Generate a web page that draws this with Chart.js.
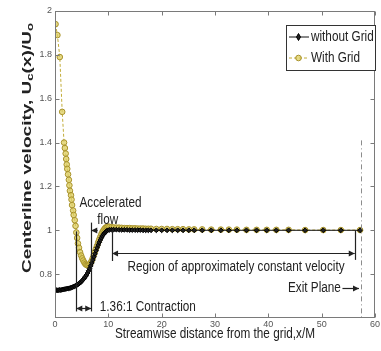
<!DOCTYPE html>
<html>
<head>
<meta charset="utf-8">
<script src="https://cdn.jsdelivr.net/npm/chart.js@4.4.1/dist/chart.umd.min.js"></script>
<style>
html,body{margin:0;padding:0;background:#fff;}
#wrap{width:381px;height:351px;position:relative;}
</style>
</head>
<body>
<div id="wrap"><canvas id="c" width="381" height="351"></canvas></div>
<script>
// ---- data ----
const xFlat = [11.0,11.5,12.0,12.5,13.0,13.5,14.0,14.5,15.0,15.5,16.0,16.5,17.0,17.5,18.0,19.0,20.0,21.0,22.0,23.0,24.0,25.1,26.1,27.6,29.3,31.1,32.6,34.1,35.9,37.8,39.7,41.5,43.8,46.9,50.3,53.6,57.2];

const xWithGrid = [0.1,0.45,0.9,1.35,1.7,1.85,2.0,2.1,2.2,2.3,2.45,2.6,2.7,2.8,3.0,3.1,3.2,3.4,3.5,3.7,3.85,4.0,4.15,4.3,4.5,4.7,4.9,5.1,5.3,5.5,5.7,5.9,6.1,6.3,6.5,6.7,6.9,7.1,7.3,7.5,7.7,7.9,8.1,8.3,8.5,8.7,8.9,9.1,9.3,9.5,9.7,9.9,10.2,10.6].concat(xFlat);
const yWithGrid = [1.94,1.89,1.79,1.54,1.40,1.375,1.35,1.325,1.30,1.28,1.255,1.23,1.205,1.18,1.16,1.14,1.115,1.09,1.07,1.046,1.02,0.99,0.965,0.94,0.92,0.90,0.885,0.872,0.862,0.853,0.846,0.842,0.84,0.841,0.845,0.852,0.862,0.875,0.889,0.903,0.917,0.93,0.945,0.958,0.97,0.982,0.992,1.0,1.007,1.012,1.015,1.017,1.016,1.014,
1.013,1.012,1.012,1.011,1.01,1.01,1.01,1.009,1.009,1.008,1.008,1.008,1.007,1.007,1.007,1.006,1.006,1.006,1.005,1.005,1.005,1.004,1.004,1.004,1.003,1.003,1.003,1.003,1.002,1.002,1.002,1.002,1.002,1.001,1.001,1.001,1.001];

const xWithoutGrid = [0.1,0.3,0.5,0.7,0.9,1.1,1.3,1.5,1.7,1.9,2.1,2.3,2.5,2.7,2.9,3.1,3.3,3.5,3.7,3.9,4.1,4.3,4.5,4.7,4.9,5.1,5.3,5.5,5.7,5.9,6.1,6.3,6.5,6.7,6.9,7.1,7.3,7.5,7.7,7.9,8.1,8.3,8.5,8.7,8.9,9.1,9.3,9.5,9.7,9.9,10.2,10.6].concat(xFlat);
const yWithoutGrid = [0.728,0.727,0.726,0.727,0.728,0.727,0.729,0.73,0.731,0.732,0.733,0.734,0.735,0.736,0.737,0.739,0.741,0.743,0.745,0.747,0.75,0.753,0.757,0.761,0.765,0.77,0.776,0.782,0.789,0.796,0.805,0.815,0.826,0.838,0.851,0.865,0.879,0.893,0.907,0.92,0.933,0.945,0.956,0.966,0.975,0.982,0.988,0.993,0.997,1.0,1.002,1.003,
1.003,1.003,1.002,1.002,1.002,1.002,1.001,1.001,1.001,1.001,1.001,1.0,1.0,1.0,1.0,1.0,1.0,1.0,1.0,1.0,1.0,1.0,1.0,1.0,1.0,1.0,1.0,1.0,1.0,1.0,1.0,1.0,1.0,1.0,1.0,1.0,1.0];

const seriesNames = ['without Grid','With Grid'];
const xTickValues = [0,10,20,30,40,50,60];
const yTickValues = [0.8,1,1.2,1.4,1.6,1.8,2];
const yTickLabels = ['0.8','1','1.2','1.4','1.6','1.8','2'];

// annotation content (in data units)
const annoTexts = [
  {text:'Accelerated', x:10.4, y:1.124, align:'center'},
  {text:'flow', x:9.9, y:1.047, align:'center'},
  {text:'Region of approximately constant velocity', x:13.6, y:0.832, align:'left'},
  {text:'1.36:1 Contraction', x:8.4, y:0.65, align:'left'},
  {text:'Exit Plane', x:53.6, y:0.736, align:'right'}
];
const annoVLines = [
  {x:4.0, y1:0.63, y2:0.995},
  {x:6.8, y1:0.63, y2:1.035},
  {x:10.7, y1:0.86, y2:1.0},
  {x:56.2, y1:0.865, y2:1.0}
];
const annoArrows = [
  {x1:8.0, y1:1.0, x2:6.8, y2:1.0, heads:[false,true]},
  {x1:10.7, y1:0.895, x2:56.2, y2:0.895, heads:[true,true]},
  {x1:4.0, y1:0.645, x2:6.8, y2:0.645, heads:[true,true]},
  {x1:53.9, y1:0.736, x2:57.0, y2:0.736, heads:[false,true]}
];
const exitPlane = {x:57.3, yTop:1.41};

const FONT = '"Liberation Sans",Arial,sans-serif';
const SX = 0.84; // narrow (condensed) look of the original lettering
const YELLOW_LINE = '#c2ac38';
const YELLOW_EDGE = '#a8922a';
const YELLOW_FILL = 'rgba(222,205,95,0.75)';

function pts(xs, ys){ return xs.map((v,i)=>({x:v, y:ys[i]})); }

function narrowText(ctx, text, x, y, align){
  ctx.save();
  ctx.translate(x, y);
  ctx.scale(SX, 1);
  ctx.textAlign = align;
  ctx.fillText(text, 0, 0);
  ctx.restore();
}

function arrowHead(ctx, x1, y1, x2, y2){
  const ang = Math.atan2(y2-y1, x2-x1), L=6, W=3;
  ctx.beginPath();
  ctx.moveTo(x2, y2);
  ctx.lineTo(x2 - L*Math.cos(ang) + W*Math.sin(ang), y2 - L*Math.sin(ang) - W*Math.cos(ang));
  ctx.lineTo(x2 - L*Math.cos(ang) - W*Math.sin(ang), y2 - L*Math.sin(ang) + W*Math.cos(ang));
  ctx.closePath(); ctx.fill();
}

const boxPlugin = {
  id:'box',
  afterDatasetsDraw(chart){
    const {ctx, chartArea:a, scales:{x, y}} = chart;
    const X = v => x.getPixelForValue(v), Y = v => y.getPixelForValue(v);
    ctx.save();
    // exit plane dash-dot line
    ctx.strokeStyle = '#8c8c8c'; ctx.lineWidth = 1;
    ctx.setLineDash([5,3,1,3]);
    ctx.beginPath();
    ctx.moveTo(Math.round(X(exitPlane.x))+0.5, Y(exitPlane.yTop));
    ctx.lineTo(Math.round(X(exitPlane.x))+0.5, a.bottom);
    ctx.stroke();
    ctx.setLineDash([]);
    // annotation lines
    ctx.strokeStyle = '#222'; ctx.fillStyle = '#222'; ctx.lineWidth = 1.2;
    annoVLines.forEach(l=>{
      const px = Math.round(X(l.x))+0.5;
      ctx.beginPath(); ctx.moveTo(px, Y(l.y1)); ctx.lineTo(px, Y(l.y2)); ctx.stroke();
    });
    annoArrows.forEach(ar=>{
      const x1=X(ar.x1), y1=Math.round(Y(ar.y1))+0.5, x2=X(ar.x2), y2=Math.round(Y(ar.y2))+0.5;
      ctx.beginPath(); ctx.moveTo(x1,y1); ctx.lineTo(x2,y2); ctx.stroke();
      if (ar.heads[1]) arrowHead(ctx, x1,y1,x2,y2);
      if (ar.heads[0]) arrowHead(ctx, x2,y2,x1,y1);
    });
    // texts
    ctx.font = '14px ' + FONT;
    ctx.textBaseline = 'middle';
    annoTexts.forEach(t=> narrowText(ctx, t.text, X(t.x), Y(t.y), t.align));
    // box frame
    ctx.strokeStyle = '#7a7a7a'; ctx.lineWidth = 1;
    const L = Math.round(a.left)+0.5, R = Math.round(a.right)-0.5, T = Math.round(a.top)+0.5, B = Math.round(a.bottom)-0.5;
    ctx.strokeRect(L, T, R-L, B-T);
    // inward tick marks
    const tl = 4;
    xTickValues.forEach(v=>{
      const px = Math.round(X(v))+0.5;
      ctx.beginPath(); ctx.moveTo(px,B); ctx.lineTo(px,B-tl); ctx.moveTo(px,T); ctx.lineTo(px,T+tl); ctx.stroke();
    });
    yTickValues.forEach(v=>{
      const py = Math.round(Y(v))+0.5;
      ctx.beginPath(); ctx.moveTo(L,py); ctx.lineTo(L+tl,py); ctx.moveTo(R,py); ctx.lineTo(R-tl,py); ctx.stroke();
    });
    // legend
    const lx = 286, ly = 25, lw = 89, lh = 45;
    ctx.fillStyle = '#fff'; ctx.fillRect(lx, ly, lw, lh);
    ctx.strokeStyle = '#333'; ctx.strokeRect(lx+0.5, ly+0.5, lw, lh);
    const ds = chart.data.datasets;
    [0,1].forEach(i=>{
      const d = ds[i];
      const yy = ly + 12 + i*21;
      ctx.strokeStyle = d.borderColor; ctx.lineWidth = 1;
      ctx.setLineDash(d.borderDash || []);
      ctx.beginPath(); ctx.moveTo(lx+3, yy); ctx.lineTo(lx+23, yy); ctx.stroke();
      ctx.setLineDash([]);
      ctx.fillStyle = d.pointBackgroundColor; ctx.strokeStyle = d.pointBorderColor;
      ctx.beginPath();
      if (d.pointStyle === 'circle') { ctx.arc(lx+12.5, yy, 2.8, 0, Math.PI*2); }
      else { ctx.moveTo(lx+12.5, yy-3.5); ctx.lineTo(lx+14.5, yy); ctx.lineTo(lx+12.5, yy+3.5); ctx.lineTo(lx+10.5, yy); ctx.closePath(); }
      ctx.fill(); ctx.stroke();
      ctx.fillStyle = '#222'; ctx.font = '14px ' + FONT; ctx.textBaseline = 'middle';
      narrowText(ctx, d.label, lx+25, yy, 'left');
    });
    // x axis title
    ctx.fillStyle = '#222';
    ctx.font = '14px ' + FONT; ctx.textBaseline = 'middle';
    narrowText(ctx, 'Streamwise distance from the grid,x/M', (a.left+a.right)/2, 334, 'center');
    ctx.restore();

    // y tick labels
    ctx.save();
    ctx.fillStyle = '#555'; ctx.font = '9px ' + FONT;
    ctx.textAlign = 'right'; ctx.textBaseline = 'middle';
    yTickValues.forEach((v,i)=>{
      ctx.fillText(yTickLabels[i], a.left - 3, Y(v));
    });
    ctx.restore();

    // y title with subscripts (elongated like the original)
    ctx.save();
    ctx.fillStyle = '#222'; ctx.textBaseline = 'middle';
    const parts = [['Centerline velocity, U',0],['c',1],['(x)/U',0],['o',1]];
    const big = 'bold 13px ' + FONT, small = 'bold 9px ' + FONT;
    let w = 0;
    parts.forEach(p=>{ ctx.font = p[1]?small:big; w += ctx.measureText(p[0]).width; });
    const targetLen = 250;
    ctx.translate(27, 148);
    ctx.rotate(-Math.PI/2);
    ctx.scale(targetLen / w, 1);
    ctx.textAlign = 'left';
    let cx = -w/2;
    parts.forEach(p=>{
      ctx.font = p[1]?small:big;
      ctx.fillText(p[0], cx, p[1]?4:0);
      cx += ctx.measureText(p[0]).width;
    });
    ctx.restore();
  }
};

new Chart(document.getElementById('c'), {
  type:'scatter',
  data:{
    datasets:[
      {label:seriesNames[0], data:pts(xWithoutGrid, yWithoutGrid), showLine:true,
       borderColor:'#111', borderWidth:1, pointStyle:'rectRot', pointRadius:2.4,
       pointBackgroundColor:'#222', pointBorderColor:'#000', pointBorderWidth:1, order:1},
      {label:seriesNames[1], data:pts(xWithGrid, yWithGrid), showLine:true,
       borderColor:YELLOW_LINE, borderWidth:1, borderDash:[3,2], pointStyle:'circle', pointRadius:2.8,
       pointBackgroundColor:YELLOW_FILL, pointBorderColor:YELLOW_EDGE, pointBorderWidth:1, order:2}
    ]
  },
  options:{
    responsive:false, animation:false,
    layout:{padding:{top:11, right:5, left:0, bottom:0}},
    plugins:{legend:{display:false}, tooltip:{enabled:false}},
    scales:{
      x:{type:'linear', min:0, max:60,
         afterBuildTicks(s){ s.ticks = xTickValues.map(v=>({value:v})); },
         ticks:{font:{size:9, family:FONT}, color:'#555', padding:1, maxRotation:0, autoSkip:false},
         grid:{display:false, drawTicks:false, tickLength:0}, border:{display:false},
         afterFit(s){ s.height = 33; }},
      y:{min:0.6, max:2,
         afterBuildTicks(s){ s.ticks = yTickValues.map(v=>({value:v})); },
         ticks:{display:false},
         grid:{display:false, drawTicks:false, tickLength:0}, border:{display:false},
         afterFit(s){ s.width = 55; }}
    }
  },
  plugins:[boxPlugin]
});
</script>
</body>
</html>
